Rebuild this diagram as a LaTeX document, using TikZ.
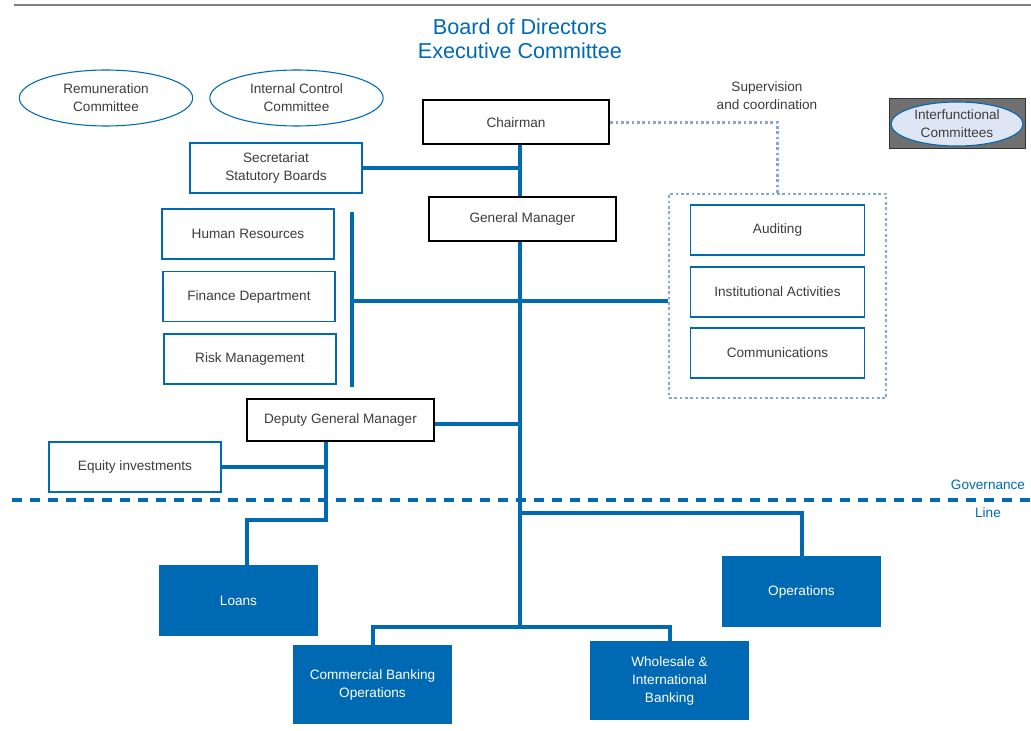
\documentclass[tikz,border=0pt]{standalone}
\usepackage{fontspec}
\setmainfont{Liberation Sans}
\usetikzlibrary{shapes.geometric}
\definecolor{bankblue}{RGB}{0,105,180}
\definecolor{dotblue}{RGB}{130,165,222}
\definecolor{txtgray}{RGB}{60,60,60}
\definecolor{panelgray}{RGB}{112,112,112}
\definecolor{paleblue}{RGB}{222,230,246}

\begin{document}
\begin{tikzpicture}[x=0.75pt, y=-0.75pt,
	every node/.style={font=\fontsize{10.2}{13.5}\selectfont, text=txtgray, align=center},
	head/.style={draw=black, line width=1.5pt, fill=white, minimum width=140pt, minimum height=33pt},
	staff/.style={draw=bankblue, line width=0.8pt, fill=white, minimum width=129pt, minimum height=37.5pt},
	unit/.style={fill=bankblue, text=white, minimum width=119pt, minimum height=53pt},
	cmte/.style={ellipse, draw=bankblue, line width=0.8pt, inner sep=0pt, minimum width=130pt, minimum height=42pt},
	link/.style={draw=bankblue, line width=3pt},
	dots/.style={draw=dotblue, line width=1.6pt, dash pattern=on 2pt off 2pt}]
	\useasboundingbox (0,0) rectangle (1031,731);
	\draw[gray, line width=1.5pt] (14,5) -- (1031,5);
	\node[text=bankblue, font=\fontsize{16.2}{18}\selectfont] (board) at (520,39) {Board of Directors\\Executive Committee};
	% committees
	\node[cmte] (rem) at (106,98) {Remuneration\\Committee};
	\node[cmte] (icc) at (296.5,98) {Internal Control\\Committee};
	\node[draw=black!80, fill=panelgray, minimum width=102pt, minimum height=37.5pt] (panel) at (957,123) {};
	\node[cmte, fill=paleblue, minimum width=99pt, minimum height=33pt] (ifc) at (957,124) {Interfunctional\\Committees};
	\node (sup) at (767,96) {Supervision\\and coordination};
	% top management
	\node[head] (chair) at (516,122.5) {Chairman};
	\node[head] (gm) at (522.5,218.5) {General Manager};
	\node[head, minimum height=32pt] (dgm) at (340.5,420) {Deputy General Manager};
	\coordinate (spine) at (520,0);
	% staff functions
	\node[staff] (sec) at (276,168) {Secretariat\\Statutory Boards};
	\node[staff] (hr) at (248,234) {Human Resources};
	\node[staff] (fin) at (249,296.5) {Finance Department};
	\node[staff] (risk) at (250,359) {Risk Management};
	\node[staff] (eq) at (135,467) {Equity investments};
	\node[dots, minimum width=163pt, minimum height=153pt] (dotbox) at (777.5,296) {};
	\node[staff, minimum width=130pt] (aud) at (777.5,230) {Auditing};
	\node[staff, minimum width=130pt] (inst) at (777.5,292) {Institutional Activities};
	\node[staff, minimum width=130pt] (comm) at (777.5,353) {Communications};
	% business units
	\node[unit] (loans) at (238.5,600.5) {Loans};
	\node[unit] (ops) at (801.5,591.5) {Operations};
	\node[unit, minimum height=59pt] (cbo) at (372.5,684.5) {Commercial Banking\\Operations};
	\node[unit, minimum height=59pt] (wib) at (669.5,680.5) {Wholesale \&\\International\\Banking};
	% governance / line
	\draw[bankblue, line width=3pt, dash pattern=on 7.5pt off 6pt] (12,500) -- (1031,500);
	\node[text=bankblue] (gov) at (988,485) {Governance};
	\node[text=bankblue] (line) at (988,513) {Line};
	% connectors
	\draw[dots] (chair.east) -| (dotbox.north);
	\draw[link] (chair.south -| spine) -- (gm.north -| spine);
	\coordinate (bottom) at (520,627);
	\draw[link] (gm.south -| spine) -- (bottom);
	\draw[link] (sec.east) -- (sec.east -| spine);
	\coordinate (stafftop) at (352,212);
	\coordinate (staffbot) at (352,387);
	\coordinate (staffmid) at (352,301);
	\draw[link] (stafftop) -- (staffbot);
	\draw[link] (staffmid) -- (staffmid -| dotbox.west);
	\draw[link] ([yshift=-3pt]dgm.east) -- ([yshift=-3pt]dgm.east -| spine);
	\coordinate (dgmleg) at (326,520);
	\coordinate (loansleg) at (247,520);
	\draw[link] (dgm.south -| dgmleg) -- (dgmleg) -- (loansleg) -- (loansleg |- loans.north);
	\draw[link] (eq.east) -- (eq.east -| dgmleg);
	\coordinate (opsjoin) at (520,513);
	\draw[link] (opsjoin) -| (ops.north);
	\draw[link] (cbo.north) |- (bottom) -| (wib.north);
\end{tikzpicture}
\end{document}
